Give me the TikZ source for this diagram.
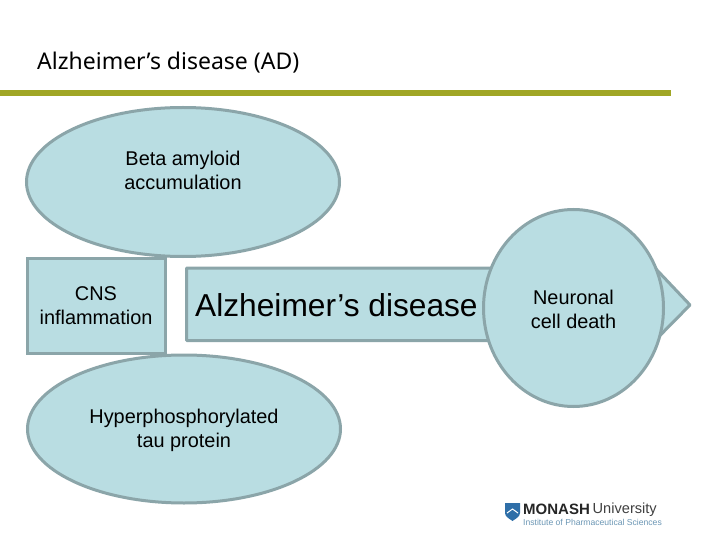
\documentclass[tikz,border=0pt]{standalone}
\usepackage{fontspec}
\setmainfont{Liberation Sans}
\newfontfamily\titlefont{Noto Sans}
\newfontfamily\logofont{Liberation Sans}
\usetikzlibrary{shapes.geometric}
\definecolor{fillblue}{HTML}{B9DDE2}
\definecolor{edgegrey}{HTML}{8BA5A9}
\definecolor{olivebar}{HTML}{A0A626}
\definecolor{logoblue}{HTML}{2F6FA8}
\definecolor{logotext}{HTML}{6C97B5}
\tikzset{
  labelfont/.style={font=\fontsize{19.9}{24}\selectfont},
  shapebase/.style={draw=edgegrey,fill=fillblue,line width=3pt,inner sep=0pt,outer sep=0pt,align=center,text=black,labelfont},
  oval/.style={shapebase,ellipse},
  boxshape/.style={shapebase,rectangle},
  plainlabel/.style={align=center,inner sep=0pt,labelfont},
}
\begin{document}
\begin{tikzpicture}[x=1pt,y=-1pt]
\useasboundingbox (0,0) rectangle (720,540);
\fill[white] (0,0) rectangle (720,540);
\node[anchor=west,inner sep=0pt,font=\titlefont\fontsize{23}{28}\selectfont] (title) at (37,63) {Alzheimer’s disease (AD)};
\fill[olivebar] (0,90.5) rectangle (671,96);
% arrow
\draw[edgegrey,fill=fillblue,line width=3pt,line join=round] (186.5,268) -- (655,268) -- (690,305) -- (655,340.5) -- (186.5,340.5) -- cycle;
\node[anchor=west,inner sep=0pt,font=\fontsize{31.7}{36}\selectfont] (main) at (195,305) {Alzheimer’s disease};
\node[boxshape,minimum width=138pt,minimum height=95pt] (cns) at (96,306) {CNS\\inflammation};
\node[oval,minimum width=313pt,minimum height=149pt] (beta) at (183,182) {};
\node[plainlabel] (betatext) at (183,170) {Beta amyloid\\accumulation};
\node[oval,minimum width=313pt,minimum height=148pt] (tau) at (184,429) {};
\node[plainlabel] (tautext) at (184,430.5) {Hyperphosphorylated\\tau protein};
\node[oval,minimum width=180pt,minimum height=197pt] (death) at (573.5,308) {};
\node[plainlabel] (deathtext) at (573.5,309) {Neuronal\\cell death};
% logo
\fill[logoblue] (505,503) -- (520,503) -- (520,513) .. controls (520,517) and (515,519) .. (512.5,521) .. controls (510,519) and (505,517) .. (505,513) -- cycle;
\draw[white,line width=1pt] (507,513) -- (512.5,509) -- (518,513);
\node[anchor=west,inner sep=0pt,font=\logofont\bfseries\fontsize{15}{16}\selectfont,text=black!85] (logoa) at (523,509.5) {MONASH};
\node[anchor=west,inner sep=0pt,font=\logofont\fontsize{14.6}{16}\selectfont,text=black!75] (logob) at (592.5,509.5) {University};
\node[anchor=west,inner sep=0pt,font=\logofont\fontsize{8.6}{10}\selectfont,text=logotext] (logoc) at (523,522.5) {Institute of Pharmaceutical Sciences};
\end{tikzpicture}
\end{document}
